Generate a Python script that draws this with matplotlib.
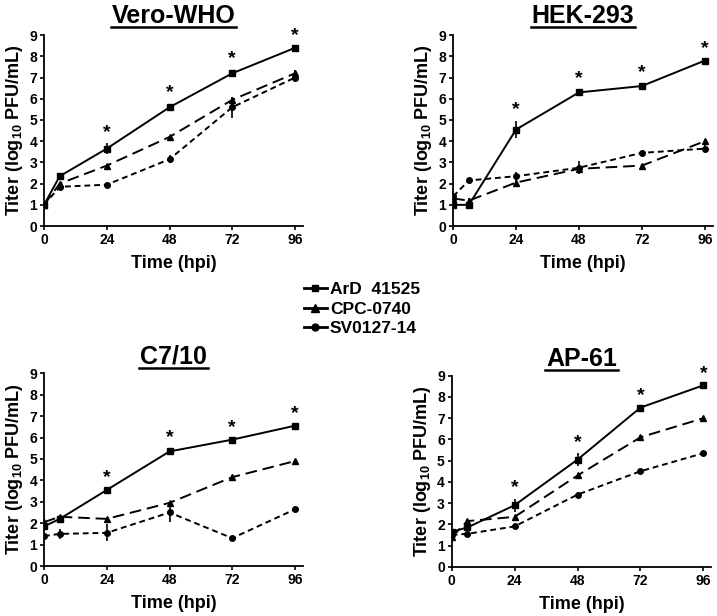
import matplotlib
matplotlib.use("Agg")
import matplotlib.pyplot as plt
from matplotlib.lines import Line2D

plt.rcParams['font.family'] = ['Liberation Sans', 'DejaVu Sans']
plt.rcParams['font.weight'] = 'bold'
plt.rcParams['mathtext.fontset'] = 'custom'
plt.rcParams['mathtext.rm'] = 'Liberation Sans:bold'
plt.rcParams['mathtext.bf'] = 'Liberation Sans:bold'

# time points (hpi)
hours = [0, 6, 24, 48, 72, 96]
panels = ['Vero-WHO', 'HEK-293', 'C7/10', 'AP-61']
strains = ['ArD  41525', 'CPC-0740', 'SV0127-14']

# titers (log10 PFU/mL), one row per panel
ard = [[1.0, 2.35, 3.65, 5.6, 7.2, 8.4],
       [1.0, 1.0, 4.55, 6.3, 6.6, 7.8],
       [1.85, 2.2, 3.55, 5.35, 5.9, 6.55],
       [1.65, 1.85, 2.9, 5.05, 7.5, 8.55]]
cpc = [[1.0, 2.0, 2.85, 4.2, 5.95, 7.2],
       [1.3, 1.2, 2.05, 2.7, 2.85, 4.0],
       [2.05, 2.3, 2.2, 2.95, 4.15, 4.9],
       [1.4, 2.15, 2.35, 4.3, 6.1, 7.0]]
sv = [[1.0, 1.85, 1.95, 3.15, 5.6, 7.0],
      [1.4, 2.15, 2.35, 2.75, 3.45, 3.65],
      [1.4, 1.5, 1.55, 2.5, 1.3, 2.65],
      [1.5, 1.55, 1.9, 3.4, 4.5, 5.35]]

# error bars
ard_err = [[0.05, 0.1, 0.25, 0.15, 0.15, 0.08],
           [0.05, 0.1, 0.4, 0.15, 0.1, 0.05],
           [0.05, 0.05, 0.05, 0.12, 0.05, 0.05],
           [0.05, 0.15, 0.3, 0.3, 0.05, 0.05]]
cpc_err = [[0.05, 0.1, 0.08, 0.05, 0.1, 0.15],
           [0.05, 0.1, 0.2, 0.2, 0.05, 0.1],
           [0.05, 0.1, 0.05, 0.05, 0.1, 0.05],
           [0.05, 0.1, 0.1, 0.1, 0.05, 0.05]]
sv_err = [[0.05, 0.1, 0.1, 0.2, 0.5, 0.1],
          [0.05, 0.05, 0.2, 0.3, 0.1, 0.15],
          [0.05, 0.25, 0.4, 0.45, 0.05, 0.1],
          [0.05, 0.05, 0.05, 0.05, 0.05, 0.05]]

# hours marked as significant
star_hours = [24, 48, 72, 96]

fig = plt.figure(figsize=(7.17, 6.16), dpi=100)
boxes = [[0.0614, 0.633, 0.361, 0.310],
         [0.632, 0.633, 0.362, 0.310],
         [0.0614, 0.0811, 0.361, 0.313],
         [0.630, 0.080, 0.362, 0.310]]
title_pads = [9, 9, 7, 7]

styles = [('s', '-', 4), ('^', (0, (6, 3)), 5), ('o', (0, (3, 2)), 4)]
titles = []

for i, name in enumerate(panels):
    ax = fig.add_axes(boxes[i])
    series = [(ard[i], ard_err[i]), (cpc[i], cpc_err[i]), (sv[i], sv_err[i])]
    for k, (vals, err) in enumerate(series):
        m, ls, ms = styles[k]
        ax.errorbar(hours, vals, yerr=err, color='black', marker=m, markersize=ms,
                    linestyle=ls, linewidth=1.4, elinewidth=1.2, capsize=0)
    for h in star_hours:
        j = hours.index(h)
        ax.text(h, ard[i][j] + ard_err[i][j] + 0.12, '*', ha='center', va='bottom',
                fontsize=14, fontweight='bold')
    ax.set_xlim(0, 99)
    ax.set_ylim(0, 9)
    ax.set_xticks([0, 24, 48, 72, 96])
    ax.set_yticks(range(10))
    ax.tick_params(labelsize=10, width=1.2, length=3, pad=2)
    for lab in ax.get_xticklabels() + ax.get_yticklabels():
        lab.set_fontweight('bold')
    ax.spines['top'].set_visible(False)
    ax.spines['right'].set_visible(False)
    ax.spines['left'].set_linewidth(1.3)
    ax.spines['bottom'].set_linewidth(1.3)
    ax.set_xlabel('Time (hpi)', fontsize=13, fontweight='bold', labelpad=6)
    ax.set_ylabel(r'Titer (log$_{10}$ PFU/mL)', fontsize=13, fontweight='bold', labelpad=3)
    t = ax.set_title(name, fontsize=18, fontweight='bold', pad=title_pads[i])
    titles.append(t)

handles = [Line2D([], [], color='black', linestyle='-', marker=styles[k][0],
                  markersize=styles[k][2] + 1, linewidth=2) for k in range(3)]
fig.legend(handles, strains, loc='center', bbox_to_anchor=(0.505, 0.498),
           frameon=False, fontsize=12.5, handlelength=1.3, handletextpad=0.2,
           labelspacing=0.25, borderpad=0)

# underline the panel titles
fig.canvas.draw()
for t in titles:
    bb = t.get_window_extent()
    fig.add_artist(Line2D([bb.x0 - 1, bb.x1 + 1], [bb.y0 + 1, bb.y0 + 1],
                          transform=None, color='black', linewidth=1.8))

fig.savefig('out.png', dpi=100)
